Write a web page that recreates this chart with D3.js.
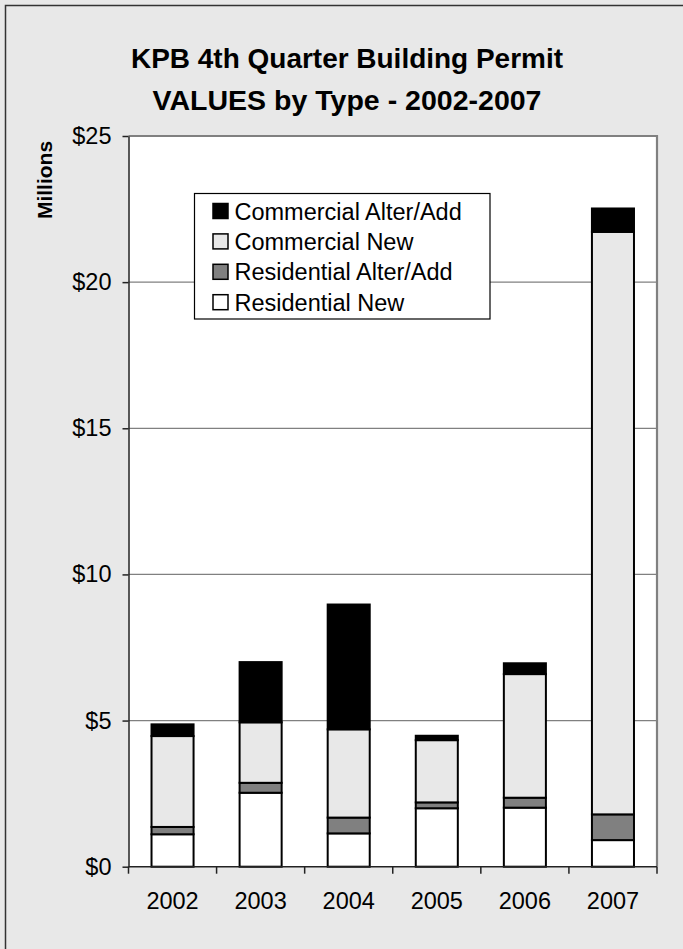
<!DOCTYPE html>
<html>
<head>
<meta charset="utf-8">
<script src="https://cdn.jsdelivr.net/npm/d3@7"></script>
<style>
  html, body { margin: 0; padding: 0; background: #e8e8e8; }
  svg { display: block; }
  svg text { font-family: "Liberation Sans", Arial, Helvetica, sans-serif; }
</style>
</head>
<body>
<svg id="chart" width="683" height="949"></svg>
<script>
const years = ["2002", "2003", "2004", "2005", "2006", "2007"];
const residentialNew = [1.11, 2.53, 1.14, 2.00, 2.02, 0.91];
const residentialAlter = [0.25, 0.34, 0.54, 0.20, 0.34, 0.88];
const commercialNew = [3.11, 2.07, 3.02, 2.13, 4.23, 19.93];
const commercialAlter = [0.40, 2.06, 4.27, 0.15, 0.37, 0.80];
const seriesNames = ["Residential New", "Residential Alter/Add", "Commercial New", "Commercial Alter/Add"];
const seriesColors = ["#ffffff", "#808080", "#e8e8e8", "#000000"];
const yTicks = [0, 5, 10, 15, 20, 25];
const titleLines = ["KPB 4th Quarter Building Permit", "VALUES by Type - 2002-2007"];

const FONT = "'Liberation Sans', Arial, Helvetica, sans-serif";
const svg = d3.select("#chart");
const W = 683, H = 949;

// background + frame
svg.append("rect").attr("x", 0).attr("y", 0).attr("width", W).attr("height", H).attr("fill", "#e8e8e8");
svg.append("rect").attr("x", 5.5).attr("y", 5.5).attr("width", 700).attr("height", 960)
  .attr("fill", "#e8e8e8").attr("stroke", "#333").attr("stroke-width", 1.5);

const plot = {left: 128.5, right: 657, top: 136, bottom: 866.7};

const x = d3.scaleBand().domain(years).range([plot.left, plot.right]).paddingInner(0.5).paddingOuter(0.25);
const xb = d3.scaleBand().domain(years).range([plot.left, plot.right]).padding(0);
const y = d3.scaleLinear().domain([0, 25]).range([plot.bottom, plot.top]);

// plot area
svg.append("rect").attr("x", plot.left).attr("y", plot.top)
  .attr("width", plot.right - plot.left).attr("height", plot.bottom - plot.top)
  .attr("fill", "#ffffff");

// gridlines
svg.append("g").selectAll("line").data(yTicks.filter(d => d > 0 && d < 25)).join("line")
  .attr("x1", plot.left).attr("x2", plot.right)
  .attr("y1", d => y(d)).attr("y2", d => y(d))
  .attr("stroke", "#808080").attr("stroke-width", 1.2);

// plot border (top & right)
svg.append("path")
  .attr("d", `M${plot.left},${plot.top}H${plot.right}V${plot.bottom}`)
  .attr("fill", "none").attr("stroke", "#808080").attr("stroke-width", 2.2);

// stacked data
const rows = years.map((yr, i) => ({
  year: yr,
  "Residential New": residentialNew[i],
  "Residential Alter/Add": residentialAlter[i],
  "Commercial New": commercialNew[i],
  "Commercial Alter/Add": commercialAlter[i]
}));
const stack = d3.stack().keys(seriesNames)(rows);
const color = d3.scaleOrdinal().domain(seriesNames).range(seriesColors);

svg.append("g").selectAll("g").data(stack).join("g")
  .attr("fill", d => color(d.key))
  .selectAll("rect").data(d => d).join("rect")
  .attr("x", d => x(d.data.year) + 1)
  .attr("width", x.bandwidth() - 2)
  .attr("y", d => y(d[1]))
  .attr("height", d => y(d[0]) - y(d[1]))
  .attr("stroke", "#000").attr("stroke-width", 2);

// y axis
const yAxis = d3.axisLeft(y).tickValues(yTicks).tickFormat(d => "$" + d).tickSize(6).tickPadding(11).tickSizeOuter(0);
const gy = svg.append("g").attr("transform", `translate(${plot.left},0)`).call(yAxis)
  .attr("font-family", FONT);
gy.select(".domain").attr("stroke", "#222").attr("stroke-width", 1.5);
gy.selectAll(".tick line").attr("stroke", "#222").attr("stroke-width", 1.5);
gy.selectAll(".tick text").attr("font-size", 23.5).attr("fill", "#000")
  .attr("font-family", FONT);

// x axis: ticks at band boundaries
const gx = svg.append("g");
gx.append("line").attr("x1", plot.left).attr("x2", plot.right)
  .attr("y1", plot.bottom).attr("y2", plot.bottom).attr("stroke", "#222").attr("stroke-width", 1.5);
const bounds = years.map(d => xb(d)).concat([xb(years[years.length - 1]) + xb.bandwidth()]);
gx.selectAll("line.tk").data(bounds).join("line").attr("class", "tk")
  .attr("x1", d => d).attr("x2", d => d)
  .attr("y1", plot.bottom).attr("y2", plot.bottom + 7)
  .attr("stroke", "#222").attr("stroke-width", 1.5);
gx.selectAll("text").data(years).join("text")
  .attr("x", d => xb(d) + xb.bandwidth() / 2)
  .attr("y", plot.bottom + 42.5)
  .attr("text-anchor", "middle").attr("font-size", 23.5).attr("fill", "#000")
  .attr("font-family", FONT)
  .text(d => d);

// y label
svg.append("text").attr("transform", "translate(52,180) rotate(-90)")
  .attr("text-anchor", "middle").attr("font-size", 21).attr("font-weight", "bold")
  .attr("font-family", FONT)
  .text("Millions");

// title
const titleWidths = [432, 389];
svg.append("g").selectAll("text").data(titleLines).join("text")
  .attr("x", 347).attr("y", (d, i) => 68 + i * 42)
  .attr("text-anchor", "middle").attr("font-size", 28).attr("font-weight", "bold")
  .attr("font-family", FONT)
  .attr("textLength", (d, i) => titleWidths[i]).attr("lengthAdjust", "spacingAndGlyphs")
  .text(d => d);

// legend
const legendItems = seriesNames.slice().reverse();
const lg = svg.append("g");
lg.append("rect").attr("x", 194.5).attr("y", 193.5).attr("width", 295.5).attr("height", 125.5)
  .attr("fill", "#fff").attr("stroke", "#000").attr("stroke-width", 1.2);
const li = lg.selectAll("g").data(legendItems).join("g")
  .attr("transform", (d, i) => `translate(0,${211 + i * 30.4})`);
li.append("rect").attr("x", 213).attr("y", -7.5).attr("width", 15).attr("height", 15)
  .attr("fill", d => color(d)).attr("stroke", "#000").attr("stroke-width", 1.5);
li.append("text").attr("x", 234.5).attr("y", 8.5).attr("font-size", 23.5)
  .attr("font-family", FONT).text(d => d);
</script>
</body>
</html>
